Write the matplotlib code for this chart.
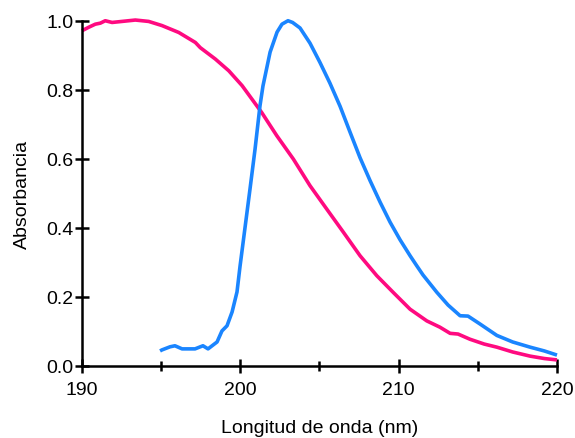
import matplotlib
matplotlib.use("Agg")
import matplotlib.pyplot as plt
from matplotlib.ticker import MultipleLocator

plt.rcParams['font.family'] = ['Liberation Sans', 'DejaVu Sans']

# pink curve
wl_pink = [190.0, 190.42, 190.84, 191.16, 191.47, 191.9, 192.53, 193.37, 194.21, 195.05,
           196.11, 197.16, 197.47, 198.42, 199.27, 200.11, 201.35, 202.3, 203.35, 204.4,
           205.46, 206.51, 207.56, 208.62, 209.67, 210.72, 211.78, 212.6, 213.25, 213.75,
           214.5, 215.4, 216.2, 217.2, 218.3, 219.2, 220.0]
abs_pink = [0.971, 0.981, 0.990, 0.993, 1.0, 0.995, 0.998, 1.002, 0.998, 0.986,
            0.966, 0.937, 0.922, 0.889, 0.855, 0.812, 0.734, 0.667, 0.599, 0.522,
            0.454, 0.387, 0.319, 0.261, 0.212, 0.164, 0.13, 0.112, 0.094, 0.092,
            0.077, 0.063, 0.054, 0.04, 0.028, 0.021, 0.017]

# blue curve
wl_blue = [194.93, 195.05, 195.56, 195.87, 196.32, 196.7, 197.14, 197.64, 197.96, 198.53,
           198.84, 199.16, 199.48, 199.79, 199.98, 200.61, 200.93, 201.24, 201.43, 201.88,
           202.32, 202.63, 203.01, 203.3, 203.77, 204.4, 205.03, 205.66, 206.3, 206.93,
           207.56, 208.2, 208.83, 209.46, 210.09, 210.72, 211.14, 211.54, 212.41, 213.12,
           213.88, 214.38, 215.14, 216.2, 217.2, 218.3, 219.2, 220.0]
abs_blue = [0.043, 0.046, 0.055, 0.058, 0.049, 0.049, 0.049, 0.058, 0.049, 0.069,
            0.101, 0.116, 0.156, 0.214, 0.288, 0.512, 0.628, 0.753, 0.811, 0.909,
            0.967, 0.99, 1.0, 0.995, 0.979, 0.935, 0.879, 0.819, 0.752, 0.677,
            0.603, 0.536, 0.474, 0.416, 0.365, 0.319, 0.29, 0.263, 0.213, 0.176,
            0.145, 0.144, 0.121, 0.088, 0.069, 0.054, 0.043, 0.031]

fig = plt.figure(figsize=(5.75, 4.39), dpi=100)
ax = fig.add_axes([0.1426, 0.1645, 0.8261, 0.786])

ax.plot(wl_pink, abs_pink, color="#ff0a80", lw=2.6, clip_on=False,
        solid_capstyle="butt", solid_joinstyle="round")
ax.plot(wl_blue, abs_blue, color="#1a85ff", lw=2.6, clip_on=False,
        solid_capstyle="butt", solid_joinstyle="round")

ax.set_xlim(190, 220)
ax.set_ylim(0, 1.0)
ax.xaxis.set_major_locator(MultipleLocator(10))
ax.xaxis.set_minor_locator(MultipleLocator(5))
ax.yaxis.set_major_locator(MultipleLocator(0.2))
ax.yaxis.set_major_formatter(plt.FormatStrFormatter("%.1f"))

for s in ["top", "right"]:
    ax.spines[s].set_visible(False)
for s in ["left", "bottom"]:
    ax.spines[s].set_linewidth(1.8)

ax.tick_params(which="major", direction="inout", length=10, width=1.8, labelsize=14)
ax.tick_params(which="minor", direction="inout", length=6.5, width=1.8)
ax.tick_params(axis="x", which="major", pad=6)
ax.tick_params(axis="y", which="major", pad=1)

ax.set_xlabel("Longitud de onda (nm)", fontsize=14, labelpad=15)
ax.set_ylabel("Absorbancia", fontsize=14, labelpad=11)

fig.savefig("out.png", dpi=100)
